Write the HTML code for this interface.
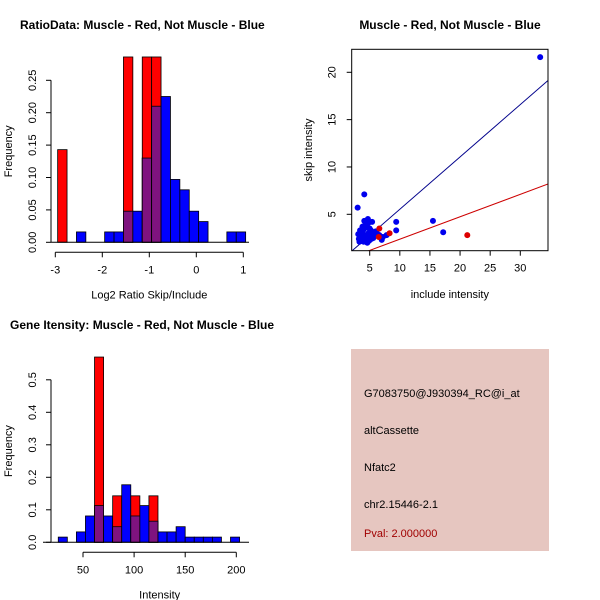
<!DOCTYPE html>
<html><head><meta charset="utf-8"><style>
body{margin:0;background:#fff;}
svg{display:block;font-family:"Liberation Sans",sans-serif;}
</style></head><body>
<svg id="c" width="600" height="600" viewBox="0 0 600 600">
<rect width="600" height="600" fill="#fff"/>
<g id="g1"></g>
<g id="g2"></g>
<g id="g3"></g>
<g>
<rect x="351" y="349" width="198" height="202" fill="#e6c6c0"/>
<text x="364" y="397" font-size="11">G7083750@J930394_RC@i_at</text>
<text x="364" y="434" font-size="11">altCassette</text>
<text x="364" y="471" font-size="11">Nfatc2</text>
<text x="364" y="508" font-size="11">chr2.15446-2.1</text>
<text x="364" y="537" font-size="11" fill="#a00000">Pval: 2.000000</text>
</g>
</svg>
<script>
// Ratio histogram data
const ratioEdgeStart = -2.95, ratioBinW = 0.2;
const ratioBlue = [0,0,0.016,0,0,0.016,0.016,0.048,0.048,0.13,0.21,0.225,0.097,0.081,0.048,0.032,0,0,0.016,0.016];
const ratioRed  = [0.143,0,0,0,0,0,0,0.286,0,0.286,0.286,0,0,0,0,0,0,0,0,0];
const ratioXTicks = [-3,-2,-1,0,1];
const ratioYTicks = [0,0.05,0.10,0.15,0.20,0.25];
const ratioYLabels = ["0.00","0.05","0.10","0.15","0.20","0.25"];
// Intensity histogram data
const intEdgeStart = 25.8, intBinW = 8.87;
const intBlue = [0.016,0,0.032,0.081,0.113,0.081,0.048,0.177,0.081,0.113,0.065,0.032,0.032,0.048,0.016,0.016,0.016,0.016,0,0.016];
const intRed  = [0,0,0,0,0.57,0,0.143,0,0.143,0,0.143,0,0,0,0,0,0,0,0,0];
const intXTicks = [50,100,150,200];
const intYTicks = [0,0.1,0.2,0.3,0.4,0.5];
const intYLabels = ["0.0","0.1","0.2","0.3","0.4","0.5"];
// Scatter data
const blueX = [33.3,3.0,4.1,4.7,4.1,5.4,9.4,9.4,15.5,17.2,7.0,7.8,6.0,3.2,3.4,3.6,3.8,4.0,4.2,4.4,4.6,4.8,5.0,5.2,3.3,3.5,3.7,3.9,4.3,4.5,4.9,5.1,5.5,5.8,6.2,3.1,3.4,4.0,4.6,5.3,3.8,4.4,5.0,5.6,4.2,4.8,6.6,7.2];
const blueY = [21.6,5.7,7.1,4.5,4.3,4.2,4.2,3.3,4.3,3.1,2.3,2.8,3.2,2.4,2.6,3.0,3.7,3.4,2.8,3.9,3.6,3.0,2.6,3.3,2.1,2.2,2.4,2.7,2.3,2.5,2.2,2.9,3.1,2.7,3.0,2.9,3.3,2.1,2.0,2.4,3.2,2.6,3.5,2.5,3.8,4.1,2.8,2.6];
const redX = [21.2,6.6,8.3,6.5];
const redY = [2.8,3.5,3.0,2.6];
const sxTicks = [5,10,15,20,25,30];
const syTicks = [5,10,15,20];
const blueSlope = 0.553, redSlope = 0.237;

const NS="http://www.w3.org/2000/svg";
function mk(p,t,a,txt){const e=document.createElementNS(NS,t);for(const k in a)e.setAttribute(k,a[k]);if(txt!==undefined)e.textContent=txt;p.appendChild(e);return e;}

function hist(g,xs,ys,x0,binW,blue,red,xt,xtl,yt,ytl,xlabel,title,tx,ty,yl0,yl1,xaxL,xaxR){
  for(let i=0;i<blue.length;i++){
    const l=xs(x0+i*binW), r=xs(x0+(i+1)*binW);
    const b=blue[i], rd=red[i];
    if(b>0){const e=mk(g,'rect',{x:l,y:ys(b),width:r-l,height:ys(0)-ys(b),fill:'#0000ff',stroke:'#000','stroke-width':0.8});
      
      }
    if(rd>0){const e=mk(g,'rect',{x:l,y:ys(rd),width:r-l,height:ys(0)-ys(rd),fill:'#ff0000',stroke:'#000','stroke-width':0.8});
      
      }
    const m=Math.min(b,rd);
    if(m>0){const e=mk(g,'rect',{x:l,y:ys(m),width:r-l,height:ys(0)-ys(m),fill:'#7f137f',stroke:'#000','stroke-width':0.8});
      
      }
  }
  mk(g,'line',{x1:xaxL,x2:xaxR,y1:ys(0),y2:ys(0),stroke:'#000'});
  const ay=ys(0)+10;
  mk(g,'line',{x1:xs(xt[0]),x2:xs(xt[xt.length-1]),y1:ay,y2:ay,stroke:'#000'});
  xt.forEach((v,i)=>{mk(g,'line',{x1:xs(v),x2:xs(v),y1:ay,y2:ay+5,stroke:'#000'});
    const t=mk(g,'text',{x:xs(v),y:ay+21,'text-anchor':'middle','font-size':11},xtl[i]);
    
    });
  const yx=yl0;
  mk(g,'line',{x1:yx,x2:yx,y1:ys(yt[0]),y2:ys(yt[yt.length-1]),stroke:'#000'});
  yt.forEach((v,i)=>{mk(g,'line',{x1:yx,x2:yx-5,y1:ys(v),y2:ys(v),stroke:'#000'});
    const t=mk(g,'text',{x:yx-15,y:ys(v),'text-anchor':'middle','font-size':11,transform:`rotate(-90 ${yx-15} ${ys(v)})`},ytl[i]);
    
    });
  const xl=mk(g,'text',{x:(xs(xt[0])+xs(xt[xt.length-1]))/2,y:ay+46,'text-anchor':'middle','font-size':11},xlabel);
  
  
  const yc=(ys(0)+ys(yt[yt.length-1]))/2-10;
  const ylab=mk(g,'text',{x:yl1,y:yc,'text-anchor':'middle','font-size':11,transform:`rotate(-90 ${yl1} ${yc})`},'Frequency');
  
  
  const tt=mk(g,'text',{x:tx,y:ty,'font-size':12,'font-weight':'bold'},title);
  
  
}

const rxs=v=>55.3+(v+3)*47, rys=v=>242.3-v*648;
hist(document.getElementById('g1'),rxs,rys,ratioEdgeStart,ratioBinW,ratioBlue,ratioRed,ratioXTicks,["-3","-2","-1","0","1"],ratioYTicks,ratioYLabels,'Log2 Ratio Skip/Include','RatioData: Muscle - Red, Not Muscle - Blue',20,29,51,12,51,249);
const ixs=v=>83+(v-50)*1.022, iys=v=>542.3-v*325;
hist(document.getElementById('g3'),ixs,iys,intEdgeStart,intBinW,intBlue,intRed,intXTicks,["50","100","150","200"],intYTicks,intYLabels,'Intensity','Gene Itensity: Muscle - Red, Not Muscle - Blue',10,329,51,12,43,249);

(function(){
  const g=document.getElementById('g2');
  const L=351.7,R=548,T=49.3,B=250.7;
  const xs=v=>369.7+(v-5)*6.024, ys=v=>214.3-(v-5)*9.467;
  const xmin=2.0,xmax=34.6;
  const cl=mk(g,'clipPath',{id:'sc'});mk(cl,'rect',{x:L,y:T,width:R-L,height:B-T});
  const lg=mk(g,'g',{'clip-path':'url(#sc)'});
  const bl=mk(lg,'line',{x1:xs(xmin),y1:ys(blueSlope*xmin),x2:xs(xmax),y2:ys(blueSlope*xmax),stroke:'#00008b','stroke-width':1});
  
  
  const rl=mk(lg,'line',{x1:xs(xmin),y1:ys(redSlope*xmin),x2:xs(xmax),y2:ys(redSlope*xmax),stroke:'#cd0000','stroke-width':1});
  
  
  for(let i=0;i<blueX.length;i++){const c=mk(lg,'circle',{cx:xs(blueX[i]),cy:ys(blueY[i]),r:3,fill:'#0000ee'});
    
    }
  for(let i=0;i<redX.length;i++){const c=mk(lg,'circle',{cx:xs(redX[i]),cy:ys(redY[i]),r:3,fill:'#dd0000'});
    
    }
  mk(g,'rect',{x:L,y:T,width:R-L,height:B-T,fill:'none',stroke:'#000'});
  sxTicks.forEach(v=>{mk(g,'line',{x1:xs(v),x2:xs(v),y1:B,y2:B+5,stroke:'#000'});
    const t=mk(g,'text',{x:xs(v),y:B+21,'text-anchor':'middle','font-size':11},String(v));
    
    });
  syTicks.forEach(v=>{mk(g,'line',{x1:L,x2:L-5,y1:ys(v),y2:ys(v),stroke:'#000'});
    const t=mk(g,'text',{x:L-16,y:ys(v),'text-anchor':'middle','font-size':11,transform:`rotate(-90 ${L-16} ${ys(v)})`},String(v));
    
    });
  const xt=mk(g,'text',{x:(L+R)/2,y:298,'text-anchor':'middle','font-size':11},'include intensity');
  
  
  const yt=mk(g,'text',{x:312,y:150,'text-anchor':'middle','font-size':11,transform:'rotate(-90 312 150)'},'skip intensity');
  
  
  const tt=mk(g,'text',{x:450,y:29,'text-anchor':'middle','font-size':12,'font-weight':'bold'},'Muscle - Red, Not Muscle - Blue');
  
  
})();
</script>
</body></html>
